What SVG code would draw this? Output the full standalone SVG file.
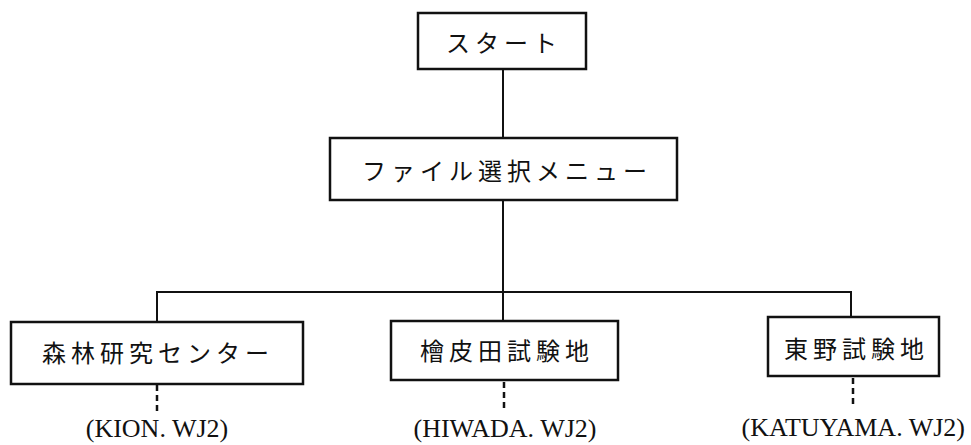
<svg xmlns="http://www.w3.org/2000/svg" width="971" height="445" viewBox="0 0 971 445">
<style>
.box{fill:#fff;stroke:#111;stroke-width:2.5}
.jp{font-family:"Noto Sans CJK JP","Noto Sans CJK SC",sans-serif;font-size:24px;letter-spacing:5px;fill:#111}
.lbl{font-family:"Liberation Serif","DejaVu Serif",serif;font-size:26px;fill:#111}
.ln{stroke:#111;stroke-width:2;fill:none}
.dash{stroke:#111;stroke-width:2.5;stroke-dasharray:6 4;fill:none}
</style>
<rect width="971" height="445" fill="#fff"/>
<g id="connectors">
<line class="ln" x1="503" y1="69" x2="503" y2="138"/>
<line class="ln" x1="503" y1="200" x2="503" y2="321"/>
<polyline class="ln" points="157,322 157,292 851,292 851,317"/>
<line class="dash" x1="157" y1="385" x2="157" y2="414"/>
<line class="dash" x1="504" y1="382" x2="504" y2="411"/>
<line class="dash" x1="853" y1="378" x2="853" y2="407"/>
</g>
<g id="start">
<rect class="box" x="418" y="13" width="168" height="56"/>
<text class="jp" x="446" y="52">スタート</text>
</g>
<g id="menu">
<rect class="box" x="330" y="138" width="347" height="62"/>
<text class="jp" x="362" y="180">ファイル選択メニュー</text>
</g>
<g id="center">
<rect class="box" x="11" y="322" width="292" height="62"/>
<text class="jp" x="42" y="362">森林研究センター</text>
<text class="lbl" x="157" y="437" text-anchor="middle">(KION. WJ2)</text>
</g>
<g id="hiwada">
<rect class="box" x="391" y="321" width="227" height="59"/>
<text class="jp" x="420" y="360">檜皮田試験地</text>
<text class="lbl" x="505" y="437" text-anchor="middle">(HIWADA. WJ2)</text>
</g>
<g id="higashino">
<rect class="box" x="768" y="317" width="171" height="59"/>
<text class="jp" x="784" y="358">東野試験地</text>
<text class="lbl" x="965" y="436" text-anchor="end">(KATUYAMA. WJ2)</text>
</g>
</svg>
